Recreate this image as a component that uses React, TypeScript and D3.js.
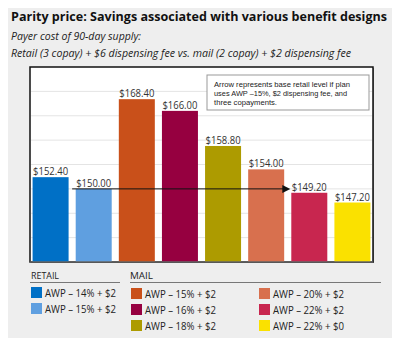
import React from "react";
import * as d3 from "d3";

const categories = ["r14", "r15", "m15", "m16", "m18", "m20", "m22", "m22b"];
const values = [152.4, 150.0, 168.4, 166.0, 158.8, 154.0, 149.2, 147.2];
const colors = ["#0070c6", "#5f9fe0", "#c9501a", "#960040", "#ad9b00", "#d8704e", "#c8264f", "#fae100"];
const retailLabels = ["AWP – 14% + $2", "AWP – 15% + $2"];
const mailLabels = ["AWP – 15% + $2", "AWP – 16% + $2", "AWP – 18% + $2", "AWP – 20% + $2", "AWP – 22% + $2", "AWP – 22% + $0"];
const gridTicks = [140, 145, 150, 155, 160, 165, 170];
const arrowValue = 150;
const noteLines = [
  "Arrow represents base retail level if plan",
  "uses AWP –15%, $2 dispensing fee, and",
  "three copayments.",
];
const noteWidths = [136, 133, 63];

const FONT = "'Open Sans', 'DejaVu Sans', sans-serif";
const NOTE_FONT = "'Liberation Sans', Arial, sans-serif";

export default function App() {
  const W = 400, H = 346;
  const left = 30, right = 373, top = 67, bottom = 262;
  const x = d3.scaleBand<string>().domain(categories).range([left, right]).paddingInner(0.165).paddingOuter(0.06);
  const y = d3.scaleLinear().domain([135, 175]).range([bottom, top]);
  const ay = y(arrowValue);
  const arrowX0 = (x("r14")! + x.bandwidth() + x("r15")!) / 2;
  const arrowX1 = x("m22")! - 1;

  return (
    <div style={{ margin: -8, width: W, height: H }}>
      <svg width={W} height={H} style={{ display: "block" }}>
        <rect x={0} y={0} width={W} height={H} fill="#eeeeee" />
        <text x={11} y={21} fontFamily={FONT} fontWeight={700} fontSize={13} fill="#111" textLength={376} lengthAdjust="spacingAndGlyphs">
          Parity price: Savings associated with various benefit designs
        </text>
        <text x={11} y={40} fontFamily={FONT} fontStyle="italic" fontSize={10} fill="#222" textLength={130} lengthAdjust="spacingAndGlyphs">
          Payer cost of 90-day supply:
        </text>
        <text x={11} y={57} fontFamily={FONT} fontStyle="italic" fontSize={10} fill="#222" textLength={340} lengthAdjust="spacingAndGlyphs">
          Retail (3 copay) + $6 dispensing fee  vs. mail (2 copay) + $2 dispensing fee
        </text>

        {/* plot frame */}
        <rect x={left + 1} y={top + 1} width={right - left} height={bottom - top} fill="#888" />
        <rect x={left} y={top} width={right - left} height={bottom - top} fill="#ffffff" stroke="#111" strokeWidth={1.5} />
        {gridTicks.map((t) => (
          <line key={t} x1={left + 1} x2={right - 1} y1={y(t)} y2={y(t)} stroke="#e4e4e4" strokeWidth={1} />
        ))}

        {categories.map((c, i) => (
          <g key={c}>
            <rect x={x(c)!} y={y(values[i])} width={x.bandwidth()} height={bottom - y(values[i])} fill={colors[i]} />
            <text x={x(c)! + x.bandwidth() / 2} y={y(values[i]) - 2} textAnchor="middle" fontFamily={FONT} fontSize={10} fill="#333" textLength={35} lengthAdjust="spacingAndGlyphs">
              {"$" + values[i].toFixed(2)}
            </text>
          </g>
        ))}
        <line x1={left} x2={right} y1={bottom} y2={bottom} stroke="#666" strokeWidth={1.5} />

        {/* arrow */}
        <line x1={arrowX0} x2={arrowX1 - 7} y1={ay} y2={ay} stroke="#111" strokeWidth={1} />
        <path d={`M${arrowX1 - 8},${ay - 4} L${arrowX1},${ay} L${arrowX1 - 8},${ay + 4} Z`} fill="#111" />

        {/* note */}
        <rect x={207} y={75} width={162} height={35} fill="#fff" stroke="#999" strokeWidth={1} />
        {noteLines.map((l, i) => (
          <text key={i} x={214} y={86.5 + i * 9.3} fontFamily={NOTE_FONT} fontSize={7.8} fill="#222" textLength={noteWidths[i]} lengthAdjust="spacingAndGlyphs">
            {l}
          </text>
        ))}

        {/* legend */}
        <text x={31} y={279} fontFamily={FONT} fontSize={9.5} fill="#222" textLength={28} lengthAdjust="spacingAndGlyphs">RETAIL</text>
        <line x1={30} x2={120} y1={282.5} y2={282.5} stroke="#777" strokeWidth={1} />
        <text x={130} y={279} fontFamily={FONT} fontSize={9.5} fill="#222" textLength={23} lengthAdjust="spacingAndGlyphs">MAIL</text>
        <line x1={130} x2={381} y1={282.5} y2={282.5} stroke="#777" strokeWidth={1} />
        {retailLabels.map((l, i) => (
          <g key={l}>
            <rect x={31} y={287 + i * 16} width={11} height={11} fill={colors[i]} />
            <text x={45} y={297 + i * 16} fontFamily={FONT} fontSize={10} fill="#222" textLength={71} lengthAdjust="spacingAndGlyphs">{l}</text>
          </g>
        ))}
        {mailLabels.map((l, i) => {
          const col = Math.floor(i / 3);
          const row = i % 3;
          const sx = col === 0 ? 131 : 259;
          return (
            <g key={l + i}>
              <rect x={sx} y={288 + row * 16} width={11} height={11} fill={colors[i + 2]} />
              <text x={sx + 14} y={298 + row * 16} fontFamily={FONT} fontSize={10} fill="#222" textLength={71} lengthAdjust="spacingAndGlyphs">{l}</text>
            </g>
          );
        })}
      </svg>
    </div>
  );
}
